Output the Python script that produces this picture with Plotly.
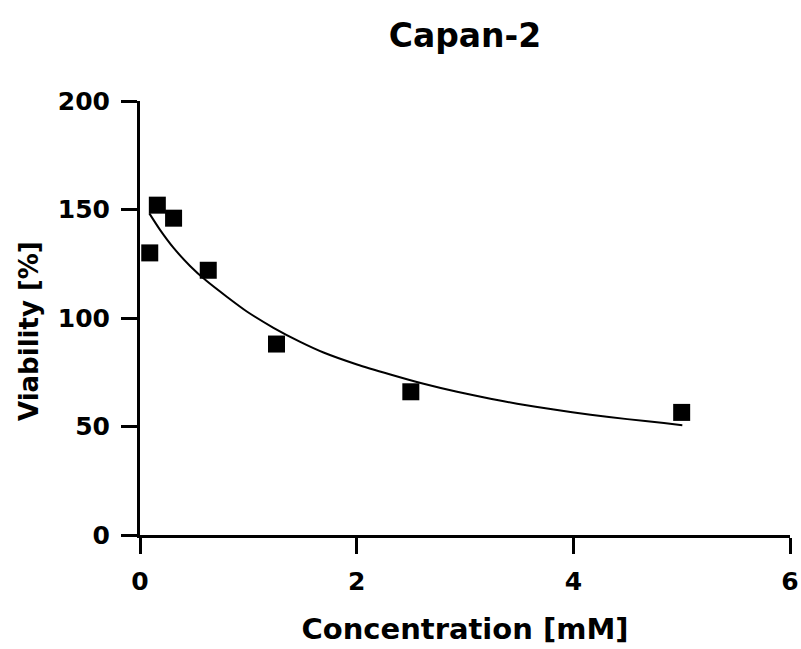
import plotly.graph_objects as go

# Measured data points (Concentration [mM], Viability [%])
conc = [0.09, 0.16, 0.31, 0.63, 1.26, 2.5, 5.0]
viability = [130, 152, 146, 122, 88, 66, 56.5]

# Fitted curve
fit_x = [0.086, 0.185, 0.308, 0.462, 0.616, 0.801, 0.986, 1.232, 1.479, 1.694,
         2.003, 2.311, 2.618, 2.927, 3.235, 3.481, 3.820, 4.159, 4.498, 4.836, 5.006]
fit_y = [148.2, 140.6, 132.4, 124.0, 117.0, 109.8, 103.0, 95.5, 89.0, 84.1,
         78.6, 74.0, 69.7, 66.0, 62.8, 60.5, 57.8, 55.4, 53.4, 51.6, 50.6]

x_ticks = [0, 2, 4, 6]
y_ticks = [0, 50, 100, 150, 200]

FONT = "DejaVu Sans, Arial, sans-serif"

fig = go.Figure()
fig.add_trace(go.Scatter(
    x=fit_x, y=fit_y, mode="lines",
    line=dict(color="black", width=2, shape="spline", smoothing=0.6),
    hoverinfo="skip", showlegend=False, cliponaxis=False,
))
fig.add_trace(go.Scatter(
    x=conc, y=viability, mode="markers",
    marker=dict(symbol="square", size=17, color="black", line=dict(width=0)),
    showlegend=False, cliponaxis=False,
))

axis_common = dict(
    showline=True, linecolor="black", linewidth=3,
    ticks="outside", ticklen=16, tickwidth=3, tickcolor="black",
    showgrid=False, zeroline=False, automargin=False,
    tickfont=dict(family=FONT, size=25, color="black", weight="bold"),
)

fig.update_layout(
    width=801, height=649,
    margin=dict(l=140, r=11, t=101, b=114),
    paper_bgcolor="white", plot_bgcolor="white",
    title=dict(
        text="<b>Capan-2</b>",
        font=dict(family=FONT, size=33, color="black"),
        x=465 / 801, xanchor="center",
        y=1 - 35 / 649, yanchor="middle", yref="container",
    ),
    xaxis=dict(
        range=[0, 6], tickvals=x_ticks,
        title=dict(text="<b>Concentration [mM]</b>",
                   font=dict(family=FONT, size=29, color="black"), standoff=24),
        ticklabelstandoff=6,
        **axis_common,
    ),
    yaxis=dict(
        range=[0, 200], tickvals=y_ticks,
        ticklabelstandoff=6,
        **axis_common,
    ),
    annotations=[dict(
        text="<b>Viability [%]</b>", textangle=-90,
        xref="paper", yref="paper",
        x=(29 - 140) / 650, y=(535 - 331) / 434,
        xanchor="center", yanchor="middle", showarrow=False,
        font=dict(family=FONT, size=26, color="black"),
    )],
)

fig.write_html(
    "out.html",
    config={"displayModeBar": False},
    post_script="document.body.style.margin='0';document.body.style.padding='0';",
)
